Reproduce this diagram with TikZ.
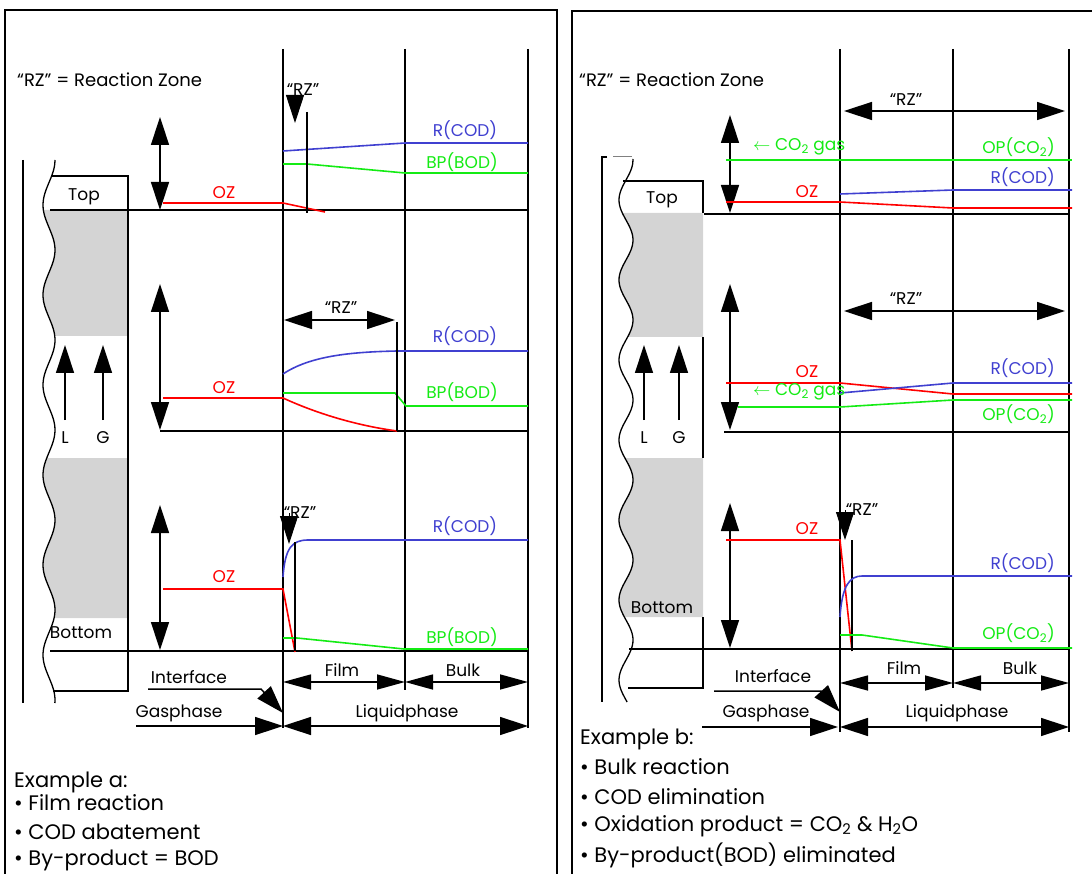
\documentclass[tikz,border=0pt]{standalone}
\usepackage{fontspec}
\setmainfont{Poppins}
\usetikzlibrary{arrows.meta}
\definecolor{cblue}{RGB}{64,64,208}
\definecolor{cgreen}{RGB}{20,235,20}
\definecolor{cred}{RGB}{255,0,0}
\definecolor{stip}{RGB}{212,212,212}
\tikzset{
  panel/.style={line width=1.3pt},
  ln/.style={line width=1.5pt},
  dbl/.style={line width=1.5pt,{Triangle[length=28pt,width=18pt]}-{Triangle[length=28pt,width=18pt]}},
  dim/.style={line width=1.5pt,{Triangle[length=28pt,width=15pt]}-{Triangle[length=28pt,width=15pt]}},
  sgl/.style={line width=1.5pt,-{Triangle[length=28pt,width=18pt]}},
  rzdown/.style={line width=1pt,-{Triangle[length=28pt,width=18pt]}},
  rzline/.style={line width=1.2pt},
  rline/.style={draw=cred,line width=1.6pt},
  bline/.style={draw=cblue,line width=1.6pt},
  gline/.style={draw=cgreen,line width=1.6pt},
  lab/.style={inner sep=0pt,font=\fontsize{17}{20}\selectfont},
  big/.style={inner sep=0pt,anchor=west,font=\fontsize{21}{24}\selectfont},
  stipple/.style={fill=stip,draw=none},
}
\begin{document}
\begin{tikzpicture}[x=1pt,y=-1pt]
\useasboundingbox (0,0) rectangle (1092,874);
% ---------- frames
\draw[panel] (5,874) -- (5,10) -- (557,10) -- (557,874);
\draw[panel] (572,874) -- (572,11) -- (1092,11);

% ================= LEFT PANEL =================
% tower
\fill[stipple] plot[smooth,domain=210:336,samples=40,variable=\t] ({49+6*sin(4*(\t-160)+90)},\t) -- (128,336) -- (128,210) -- cycle;
\fill[stipple] plot[smooth,domain=458:618,samples=40,variable=\t] ({49+6*sin(4*(\t-160)+90)},\t) -- (128,618) -- (128,458) -- cycle;
\draw[ln] (23,160) -- (23,703);
\draw[line width=1.3pt] plot[smooth,domain=160:703,samples=120,variable=\t] ({49+6*sin(4*(\t-160)+90)},\t);
\draw[ln] (51,176) -- (128,176) -- (128,691) -- (53,691);
\draw[sgl] (65,420) -- (65,345);
\draw[sgl] (103,420) -- (103,345);
\node[lab] (topA) at (84,197) {Top};
\node[lab] (botA) at (81,633) {Bottom};
\node[lab] (lA) at (65,438) {L};
\node[lab] (gA) at (103,438) {G};
% columns and baselines
\draw[ln] (283,49) -- (283,728);
\draw[ln] (405,49) -- (405,690);
\draw[ln] (528,49) -- (528,728);
\draw[ln] (50,210) -- (528,210);
\draw[ln] (160,431) -- (528,431);
\draw[ln] (50,651) -- (528,651);
\node[lab,anchor=west,font=\fontsize{18}{20}\selectfont] (rzdefA) at (17,80) {“RZ” = Reaction Zone};
% axis arrows
\draw[dbl] (160,117) -- (160,210);
\draw[dbl] (160,284) -- (160,430);
\draw[dbl] (160,505) -- (160,650);
% top profile
\draw[rline] (163,203) -- (283,203) -- (325,212);
\draw[bline] (283,151) -- (405,143) -- (528,143);
\draw[gline] (283,164) -- (307,164) -- (405,173) -- (528,173);
\draw[rzline] (307,112) -- (307,213);
\node[lab] (rzA1) at (303,90) {“RZ”};
\draw[rzdown] (295,95) -- (295,123);
\node[lab,text=cred] (ozA1) at (224,193) {OZ};
\node[lab,text=cblue] (rcA1) at (465,130) {R(COD)};
\node[lab,text=cgreen] (bpA1) at (462,162) {BP(BOD)};
% middle profile
\draw[rline] (163,398) -- (283,398) .. controls (320,415) and (360,426) .. (397,431);
\draw[bline] (283,374) .. controls (310,356) and (350,352) .. (397,351) -- (528,351);
\draw[gline] (283,393) -- (395,393) -- (406,406) -- (528,406);
\draw[dbl] (284,320) -- (395,320);
\draw[rzline] (397,322) -- (397,431);
\node[lab] (rzA2) at (341,308) {“RZ”};
\node[lab,text=cred] (ozA2) at (224,388) {OZ};
\node[lab,text=cblue] (rcA2) at (465,336) {R(COD)};
\node[lab,text=cgreen] (bpA2) at (462,392) {BP(BOD)};
% bottom profile
\draw[rline] (163,589) -- (283,589) -- (295,652);
\draw[bline] (283,577) .. controls (285,548) and (292,540) .. (308,540) -- (528,540);
\draw[gline] (283,638) -- (297,638) -- (404,649) -- (528,649);
\draw[rzline] (295,542) -- (295,651);
\node[lab] (rzA3) at (300,513) {“RZ”};
\draw[rzdown] (289,513) -- (289,544);
\node[lab,text=cred] (ozA3) at (224,577) {OZ};
\node[lab,text=cblue] (rcA3) at (465,526) {R(COD)};
\node[lab,text=cgreen] (bpA3) at (462,637) {BP(BOD)};
% dimensions
\draw[dim] (283,682) -- (405,682);
\draw[dim] (405,682) -- (528,682);
\draw[sgl] (148,689) -- (261,689) -- (283,713);
\draw[sgl] (136,726) -- (283,726);
\draw[dbl] (283,726) -- (528,726);
\node[lab] (filmA) at (342,670) {Film};
\node[lab] (bulkA) at (463,670) {Bulk};
\node[lab] (ifA) at (189,677) {Interface};
\node[lab] (gasA) at (179,713) {Gasphase};
\node[lab] (liqA) at (407,713) {Liquidphase};
\node[big] (exA) at (14,782) {Example a:};
\node[big] (exA1) at (14,803) {• Film reaction};
\node[big] (exA2) at (14,832) {• COD abatement};
\node[big] (exA3) at (14,860) {• By-product = BOD};

% ================= RIGHT PANEL =================
\fill[stipple] plot[smooth,domain=213:337,samples=40,variable=\t] ({626+7*sin(4.5*(\t-160)+90)},\t) -- (703,337) -- (703,213) -- cycle;
\fill[stipple] plot[smooth,domain=458:617,samples=40,variable=\t] ({626+7*sin(4.5*(\t-160)+90)},\t) -- (703,617) -- (703,458) -- cycle;
\draw[ln] (607,157) -- (602,157) -- (602,702);
\draw[gray,line width=1pt] (613,157) -- (632,157);
\draw[line width=1.3pt] plot[smooth,domain=159:702,samples=120,variable=\t] ({626+7*sin(4.5*(\t-160)+90)},\t);
\draw[ln] (623,181) -- (703,181) -- (703,213);
\draw[ln] (703,337) -- (703,458);
\draw[ln] (703,617) -- (703,688) -- (628,688);
\draw[sgl] (644,420) -- (644,345);
\draw[sgl] (679,420) -- (679,345);
\node[lab] (topB) at (662,200) {Top};
\node[lab] (botB) at (662,608) {Bottom};
\node[lab] (lB) at (644,438) {L};
\node[lab] (gB) at (679,438) {G};
% columns and baselines
\draw[ln] (840,49) -- (840,732);
\draw[ln] (953,49) -- (953,688);
\draw[ln] (1069,49) -- (1069,732);
\draw[ln] (704,214) -- (1069,214);
\draw[ln] (724,432) -- (1069,432);
\draw[ln] (629,649) -- (1069,649);
\node[lab,anchor=west,font=\fontsize{18}{20}\selectfont] (rzdefB) at (579,80) {“RZ” = Reaction Zone};
% axis arrows
\draw[dbl] (730,115) -- (730,213);
\draw[dbl] (730,284) -- (730,430);
\draw[dbl] (730,503) -- (730,648);
% top profile
\draw[gline] (726,160) -- (1072,160);
\draw[bline] (840,194) -- (953,190) -- (1072,190);
\draw[rline] (726,202) -- (840,202) -- (953,208) -- (1072,208);
\draw[dbl] (844,111) -- (1065,111);
\node[lab] (rzB1) at (906,100) {“RZ”};
\node[lab,text=cred] (ozB1) at (807,192) {OZ};
\node[lab,text=cblue,anchor=east] (rcB1) at (1055,177) {R(COD)};
\node[lab,text=cgreen,anchor=east] (opB1) at (1055,147) {OP(CO\textsubscript{2})};
\node[lab,text=cgreen,anchor=west] (gasB1) at (753,147) {$\leftarrow$ CO\textsubscript{2} gas};
% middle profile
\draw[rline] (726,383) -- (840,383) -- (953,394) -- (1072,394);
\draw[bline] (840,393) -- (953,383) -- (1072,383);
\draw[gline] (738,407) -- (840,407) -- (953,400) -- (1072,400);
\draw[dbl] (844,311) -- (1065,311);
\node[lab] (rzB2) at (906,299) {“RZ”};
\node[lab,text=cred] (ozB2) at (807,372) {OZ};
\node[lab,text=cblue,anchor=east] (rcB2) at (1055,368) {R(COD)};
\node[lab,text=cgreen,anchor=east] (opB2) at (1055,414) {OP(CO\textsubscript{2})};
\node[lab,text=cgreen,anchor=west] (gasB2) at (753,392) {$\leftarrow$ CO\textsubscript{2} gas};
% bottom profile
\draw[rline] (726,540) -- (840,540) -- (852,651);
\draw[rzline] (852,540) -- (852,651);
\node[lab] (rzB3) at (862,510) {“RZ”};
\draw[rzdown] (845,510) -- (845,540);
\draw[bline] (840,617) .. controls (842,585) and (850,576) .. (862,576) -- (1072,576);
\draw[gline] (840,635) -- (862,635) -- (953,648) -- (1072,648);
\node[lab,text=cred] (ozB3) at (807,529) {OZ};
\node[lab,text=cblue,anchor=east] (rcB3) at (1055,563) {R(COD)};
\node[lab,text=cgreen,anchor=east] (opB3) at (1055,633) {OP(CO\textsubscript{2})};
% dimensions
\draw[dim] (840,683) -- (953,683);
\draw[dim] (953,683) -- (1069,683);
\draw[sgl] (714,691) -- (821,691) -- (840,712);
\draw[sgl] (702,727) -- (838,727);
\draw[dbl] (840,727) -- (1069,727);
\node[lab] (filmB) at (904,668) {Film};
\node[lab] (bulkB) at (1020,668) {Bulk};
\node[lab] (ifB) at (773,676) {Interface};
\node[lab] (gasB) at (766,713) {Gasphase};
\node[lab] (liqB) at (957,713) {Liquidphase};
\node[big] (exB) at (580,739) {Example b:};
\node[big] (exB1) at (580,767) {• Bulk reaction};
\node[big] (exB2) at (580,797) {• COD elimination};
\node[big] (exB3) at (580,826) {• Oxidation product = CO\textsubscript{2} \& H\textsubscript{2}O};
\node[big] (exB4) at (580,855) {• By-product(BOD) eliminated};
\end{tikzpicture}
\end{document}
